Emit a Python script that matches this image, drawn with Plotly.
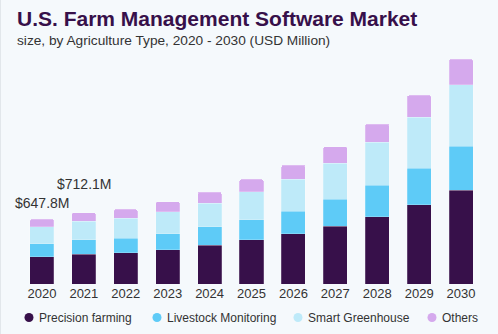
import plotly.graph_objects as go

# Market size by agriculture type (USD Million)
years = ["2020", "2021", "2022", "2023", "2024", "2025", "2026", "2027", "2028", "2029", "2030"]
precision_farming = [270.6, 298.0, 313, 343, 390, 443, 503, 577, 673, 793, 940]
livestock_monitoring = [132.9, 146.9, 143, 160, 183, 200, 227, 273, 317, 364, 440]
smart_greenhouse = [170.1, 185.0, 200, 220, 237, 280, 320, 360, 430, 513, 613]
others = [74.2, 82.2, 90, 100, 110, 124, 140, 163, 180, 217, 254]

series_names = ["Precision farming", "Livestock Monitoring", "Smart Greenhouse", "Others"]
series_values = [precision_farming, livestock_monitoring, smart_greenhouse, others]
series_colors = ["#37104a", "#5ecbf7", "#beeaf9", "#d5a9ed"]

# Totals labelled above the first two years
labelled_years = ["2020", "2021"]
labelled_text = ["$647.8M", "$712.1M"]
label_shift = [6, 19]

totals = [sum(v) for v in zip(*series_values)]

W, H = 498, 334
M = dict(l=21, r=16, t=54, b=50)
PW = W - M["l"] - M["r"]
PH = H - M["t"] - M["b"]


def px_x(px):
    return (px - M["l"]) / PW


def px_y(py):
    return (H - M["b"] - py) / PH


FONT = "Liberation Sans, Arial, sans-serif"

fig = go.Figure()
for name, vals, col in zip(series_names, series_values, series_colors):
    fig.add_trace(go.Bar(
        x=years, y=vals, name=name, marker_color=col,
        marker_line=dict(color="rgba(255,255,255,0.35)", width=0.6),
        showlegend=False,
    ))

for yr, txt, sh in zip(labelled_years, labelled_text, label_shift):
    idx = years.index(yr)
    fig.add_annotation(
        x=idx, y=totals[idx], text=txt, showarrow=False,
        yanchor="bottom", yshift=sh,
        font=dict(family=FONT, size=14, color="#333333"),
    )

# Title block
fig.add_annotation(
    xref="paper", yref="paper", x=px_x(15), y=px_y(18.5),
    xanchor="left", yanchor="middle", showarrow=False, align="left",
    text="<b>U.S. Farm Management Software Market</b>",
    font=dict(family=FONT, size=21, color="#37104a"),
)
fig.add_annotation(
    xref="paper", yref="paper", x=px_x(15), y=px_y(40.5),
    xanchor="left", yanchor="middle", showarrow=False, align="left",
    text="size, by Agriculture Type, 2020 - 2030 (USD Million)",
    font=dict(family=FONT, size=13.7, color="#333333"),
)

# Legend row: circle swatch + label for each series
legend_marker_x = [29, 157, 298, 432]
legend_y = 317.5
for name, col, mx in zip(series_names, series_colors, legend_marker_x):
    fig.add_shape(
        type="circle", xref="paper", yref="paper",
        xsizemode="pixel", ysizemode="pixel",
        xanchor=px_x(mx), yanchor=px_y(legend_y),
        x0=-4.5, x1=4.5, y0=-4.5, y1=4.5,
        fillcolor=col, line=dict(width=0),
    )
    fig.add_annotation(
        xref="paper", yref="paper", x=px_x(mx + 8), y=px_y(legend_y),
        xanchor="left", yanchor="middle", showarrow=False,
        text=name, font=dict(family=FONT, size=12, color="#333333"),
    )

# Thin frame line on the left edge of the card
fig.add_shape(
    type="line", xref="paper", yref="paper",
    x0=px_x(0.5), x1=px_x(0.5), y0=px_y(0), y1=px_y(H),
    line=dict(color="#e2e7eb", width=1),
)

fig.update_layout(
    width=W, height=H,
    margin=M,
    barmode="stack", bargap=0.427,
    barcornerradius=2,
    paper_bgcolor="#f5f9fc", plot_bgcolor="#f5f9fc",
    font=dict(family=FONT, size=13, color="#333333"),
    showlegend=False,
    xaxis=dict(type="category", range=[-0.5, len(years) - 0.5], automargin=False,
               showgrid=False, showline=False, zeroline=False, ticks="",
               tickfont=dict(size=13, color="#333333")),
    yaxis=dict(range=[0, 2300], visible=False, automargin=False),
)

fig.write_html("out.html")
